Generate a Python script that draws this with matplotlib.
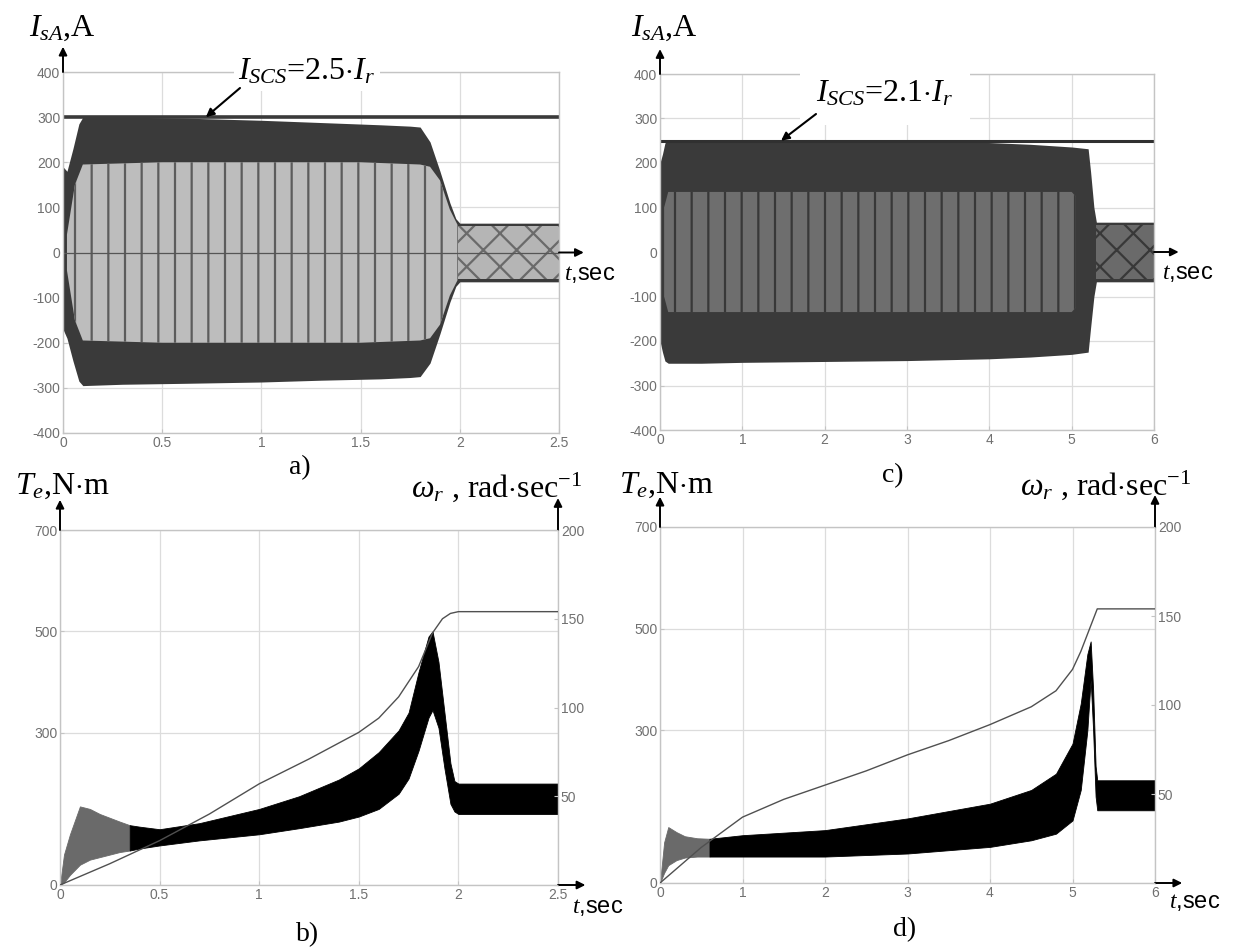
import numpy as np
import matplotlib.pyplot as plt

plt.rcParams['font.family'] = 'Liberation Sans'
plt.rcParams['mathtext.fontset'] = 'custom'
plt.rcParams['mathtext.rm'] = 'Liberation Serif'
plt.rcParams['mathtext.it'] = 'Liberation Serif:italic'
plt.rcParams['mathtext.bf'] = 'Liberation Serif:bold'
plt.rcParams['axes.unicode_minus'] = False
plt.rcParams['hatch.linewidth'] = 1.6

# ---- a) stator current, I_SCS = 2.5*Ir ----
t_a = [0, 0.02, 0.05, 0.08, 0.1, 0.3, 0.6, 1.0, 1.3, 1.6, 1.75, 1.8, 1.85, 1.9, 1.95, 1.98, 2.0, 2.5]
a_up = [190, 180, 230, 285, 300, 300, 298, 293, 288, 283, 280, 278, 245, 180, 110, 75, 65, 65]
a_lo = [-170, -190, -240, -285, -295, -292, -290, -287, -283, -280, -277, -275, -245, -180, -110, -75, -65, -65]
t_a_in = [0.02, 0.06, 0.1, 0.5, 1.0, 1.5, 1.8, 1.85, 1.9, 1.95, 1.99]
a_in_up = [40, 150, 195, 200, 200, 200, 195, 190, 160, 95, 60]
a_in_lo = [-40, -150, -195, -200, -200, -200, -195, -190, -160, -95, -60]
t_a_ss = [1.99, 2.5]
a_ss = [58, 58]
a_limit = 300

# ---- c) stator current, I_SCS = 2.1*Ir ----
t_c = [0, 0.03, 0.06, 0.1, 0.5, 1, 2, 3, 4, 4.5, 5.0, 5.2, 5.23, 5.27, 5.3, 6]
c_up = [200, 220, 245, 252, 250, 250, 250, 249, 246, 242, 236, 232, 180, 100, 67, 67]
c_lo = [-200, -225, -245, -250, -250, -248, -246, -244, -240, -236, -230, -225, -170, -100, -67, -67]
t_c_in = [0.05, 0.1, 5.0, 5.05]
c_in_up = [100, 135, 135, 125]
c_in_lo = [-100, -135, -135, -125]
t_c_ss = [5.3, 6]
c_ss = [60, 60]
c_limit = 250

# ---- b) torque and speed, 2.5 s start ----
t_b = [0, 0.02, 0.05, 0.1, 0.15, 0.2, 0.3, 0.35, 0.4, 0.5, 0.7, 1.0, 1.2, 1.4, 1.5, 1.6, 1.7,
       1.75, 1.8, 1.85, 1.87, 1.9, 1.93, 1.96, 1.98, 2.0, 2.5]
b_up = [0, 60, 100, 155, 150, 140, 125, 118, 115, 110, 122, 150, 175, 208, 230, 262, 305,
        340, 420, 490, 500, 440, 340, 240, 205, 200, 200]
b_lo = [0, 5, 20, 40, 50, 55, 65, 68, 72, 78, 88, 100, 112, 125, 135, 150, 180,
        210, 265, 330, 345, 310, 230, 160, 145, 140, 140]
t_bw = [0, 0.25, 0.5, 0.75, 1.0, 1.25, 1.5, 1.6, 1.7, 1.8, 1.87, 1.92, 1.96, 2.0, 2.5]
b_w = [0, 12, 25, 40, 57, 71, 86, 94, 106, 123, 142, 150, 153, 154, 154]

# ---- d) torque and speed, 6 s start ----
t_d = [0, 0.05, 0.1, 0.2, 0.3, 0.45, 0.6, 1.0, 2.0, 3.0, 4.0, 4.5, 4.8, 5.0, 5.1, 5.18,
       5.22, 5.25, 5.28, 5.3, 6.0]
d_up = [0, 80, 110, 100, 92, 88, 87, 94, 104, 127, 156, 183, 215, 274, 353, 450,
        475, 380, 230, 202, 202]
d_lo = [0, 20, 35, 45, 50, 52, 52, 52, 52, 58, 71, 84, 97, 123, 183, 300,
        400, 300, 170, 143, 143]
t_dw = [0, 0.5, 1.0, 1.5, 2.0, 2.5, 3.0, 3.5, 4.0, 4.5, 4.8, 5.0, 5.1, 5.2, 5.3, 6.0]
d_w = [0, 20, 37, 47, 55, 63, 72, 80, 89, 99, 108, 120, 130, 142, 154, 154]

W, H = 1237, 949
fig = plt.figure(figsize=(W / 100, H / 100), dpi=100)


def box(x0, y0, x1, y1):
    return [x0 / W, 1 - y1 / H, (x1 - x0) / W, (y1 - y0) / H]


def px(x, y):
    return x / W, 1 - y / H


def style(ax):
    for s in ax.spines.values():
        s.set_color('#c4c4c4')
        s.set_linewidth(1)
    ax.tick_params(direction='in', length=3, color='#c4c4c4', labelcolor='#707070',
                   labelsize=10, pad=2)
    ax.grid(True, color='#dcdcdc', lw=0.9)
    ax.set_axisbelow(True)


arw = dict(arrowstyle='-|>', color='black', lw=1.4, mutation_scale=12, shrinkA=0, shrinkB=0)


def axis_arrows(ax, y0, up_len, right_len):
    ax.annotate('', xy=(0, 1 + up_len), xytext=(0, 1.0), xycoords='axes fraction',
                arrowprops=arw, annotation_clip=False)
    ax.annotate('', xy=(1 + right_len, y0), xytext=(1.0, y0), xycoords='axes fraction',
                arrowprops=arw, annotation_clip=False)


def limit_label(ax, text, pos, pad, start, target):
    ax.text(*pos, text, transform=fig.transFigure, ha='center', va='center', fontsize=23,
            family=serif, bbox=dict(facecolor='white', edgecolor='none', pad=pad), zorder=5)
    ax.annotate('', xy=target, xytext=start, textcoords='figure fraction',
                arrowprops=dict(arrowstyle='-|>', color='black', lw=1.5, mutation_scale=12,
                                shrinkA=0, shrinkB=0), zorder=6)


serif = 'Liberation Serif'

# ---------- a ----------
ax = fig.add_axes(box(63, 72, 559, 433))
style(ax)
ax.fill_between(t_a, a_lo, a_up, color='#3a3a3a', lw=0)
ax.fill_between(t_a_in, a_in_lo, a_in_up, facecolor='#bdbdbd', edgecolor='#5c5c5c', hatch='|', lw=0)
ax.fill_between(t_a_ss, [-v for v in a_ss], a_ss, facecolor='#b5b5b5', edgecolor='#6a6a6a', hatch='x', lw=0)
ax.axhline(0, color='#555555', lw=0.9)
ax.axhline(a_limit, color='#3a3a3a', lw=2.6)
ax.set_xlim(0, 2.5)
ax.set_ylim(-400, 400)
ax.set_xticks([0, 0.5, 1, 1.5, 2, 2.5])
ax.set_xticklabels(['0', '0.5', '1', '1.5', '2', '2.5'])
ax.set_yticks(range(-400, 401, 100))
axis_arrows(ax, 0.5, 0.07, 0.05)
limit_label(ax, r'$I_{SCS}$=2.5$\cdot$$I_r$', px(307, 72), 3, px(240, 88), (0.72, a_limit))

# ---------- c ----------
ax = fig.add_axes(box(660, 74, 1154, 430))
style(ax)
ax.fill_between(t_c, c_lo, c_up, color='#3a3a3a', lw=0)
ax.fill_between(t_c_in, c_in_lo, c_in_up, facecolor='#6e6e6e', edgecolor='#383838', hatch='|', lw=0)
ax.fill_between(t_c_ss, [-v for v in c_ss], c_ss, facecolor='#6a6a6a', edgecolor='#383838', hatch='x', lw=0)
ax.axhline(c_limit, color='#303030', lw=2.2)
ax.set_xlim(0, 6)
ax.set_ylim(-400, 400)
ax.set_xticks(range(0, 7))
ax.set_yticks(range(-400, 401, 100))
axis_arrows(ax, 0.5, 0.07, 0.05)
limit_label(ax, r'$I_{SCS}$=2.1$\cdot$$I_r$', px(885, 94), 12, px(816, 114), (1.47, c_limit))

# ---------- b, d ----------
panels = [
    (box(60, 530, 558, 885), t_b, b_up, b_lo, 0.35, t_bw, b_w, 2.5, [0, 0.5, 1, 1.5, 2, 2.5],
     ['0', '0.5', '1', '1.5', '2', '2.5']),
    (box(660, 527, 1155, 883), t_d, d_up, d_lo, 0.6, t_dw, d_w, 6, list(range(0, 7)),
     [str(i) for i in range(7)]),
]
for pos, tt, up, lo, t_split, tw, w, tmax, xt, xtl in panels:
    ax = fig.add_axes(pos)
    style(ax)
    tt = np.array(tt)
    ax.fill_between(tt, lo, up, where=tt <= t_split, color='#6a6a6a', lw=0.6)
    ax.fill_between(tt, lo, up, where=tt >= t_split, color='black', lw=0.6)
    ax.set_xlim(0, tmax)
    ax.set_ylim(0, 700)
    ax.set_yticks([0, 300, 500, 700])
    ax.set_xticks(xt)
    ax.set_xticklabels(xtl)
    ax2 = ax.twinx()
    ax2.plot(tw, w, color='#505050', lw=1.0)
    ax2.set_ylim(0, 200)
    ax2.set_yticks([0, 50, 100, 150, 200])
    ax2.set_yticklabels(['', '50', '100', '150', '200'])
    for s in ax2.spines.values():
        s.set_visible(False)
    ax2.tick_params(direction='in', length=3, color='#c4c4c4', labelcolor='#707070',
                    labelsize=10, pad=2)
    axis_arrows(ax, 0.0, 0.085, 0.055)
    ax.annotate('', xy=(1, 1.09), xytext=(1, 1.0), xycoords='axes fraction',
                arrowprops=arw, annotation_clip=False)

# ---------- texts ----------
lab = dict(family=serif, fontsize=23, ha='center', va='center')
fig.text(*px(62, 28), r'$I_{sA}$,A', **lab)
fig.text(*px(664, 28), r'$I_{sA}$,A', **lab)
fig.text(*px(62, 486), r'$T_e$,N$\cdot$m', **lab)
fig.text(*px(666, 485), r'$T_e$,N$\cdot$m', **lab)
fig.text(*px(497, 487), r'$\omega_r$ , rad$\cdot$sec$^{\mathregular{-1}}$', **lab)
fig.text(*px(1106, 485), r'$\omega_r$ , rad$\cdot$sec$^{\mathregular{-1}}$', **lab)

tl = dict(fontsize=17, ha='center', va='center')
fig.text(*px(590, 274), r'$t$,sec', **tl)
fig.text(*px(1188, 273), r'$t$,sec', **tl)
fig.text(*px(598, 907), r'$t$,sec', **tl)
fig.text(*px(1195, 902), r'$t$,sec', **tl)

pl = dict(family=serif, fontsize=20, ha='center', va='center')
fig.text(*px(300, 468), 'a)', **pl)
fig.text(*px(893, 476), 'c)', **pl)
fig.text(*px(308, 935), 'b)', **pl)
fig.text(*px(905, 930), 'd)', **pl)

fig.savefig('out.png', dpi=100)
